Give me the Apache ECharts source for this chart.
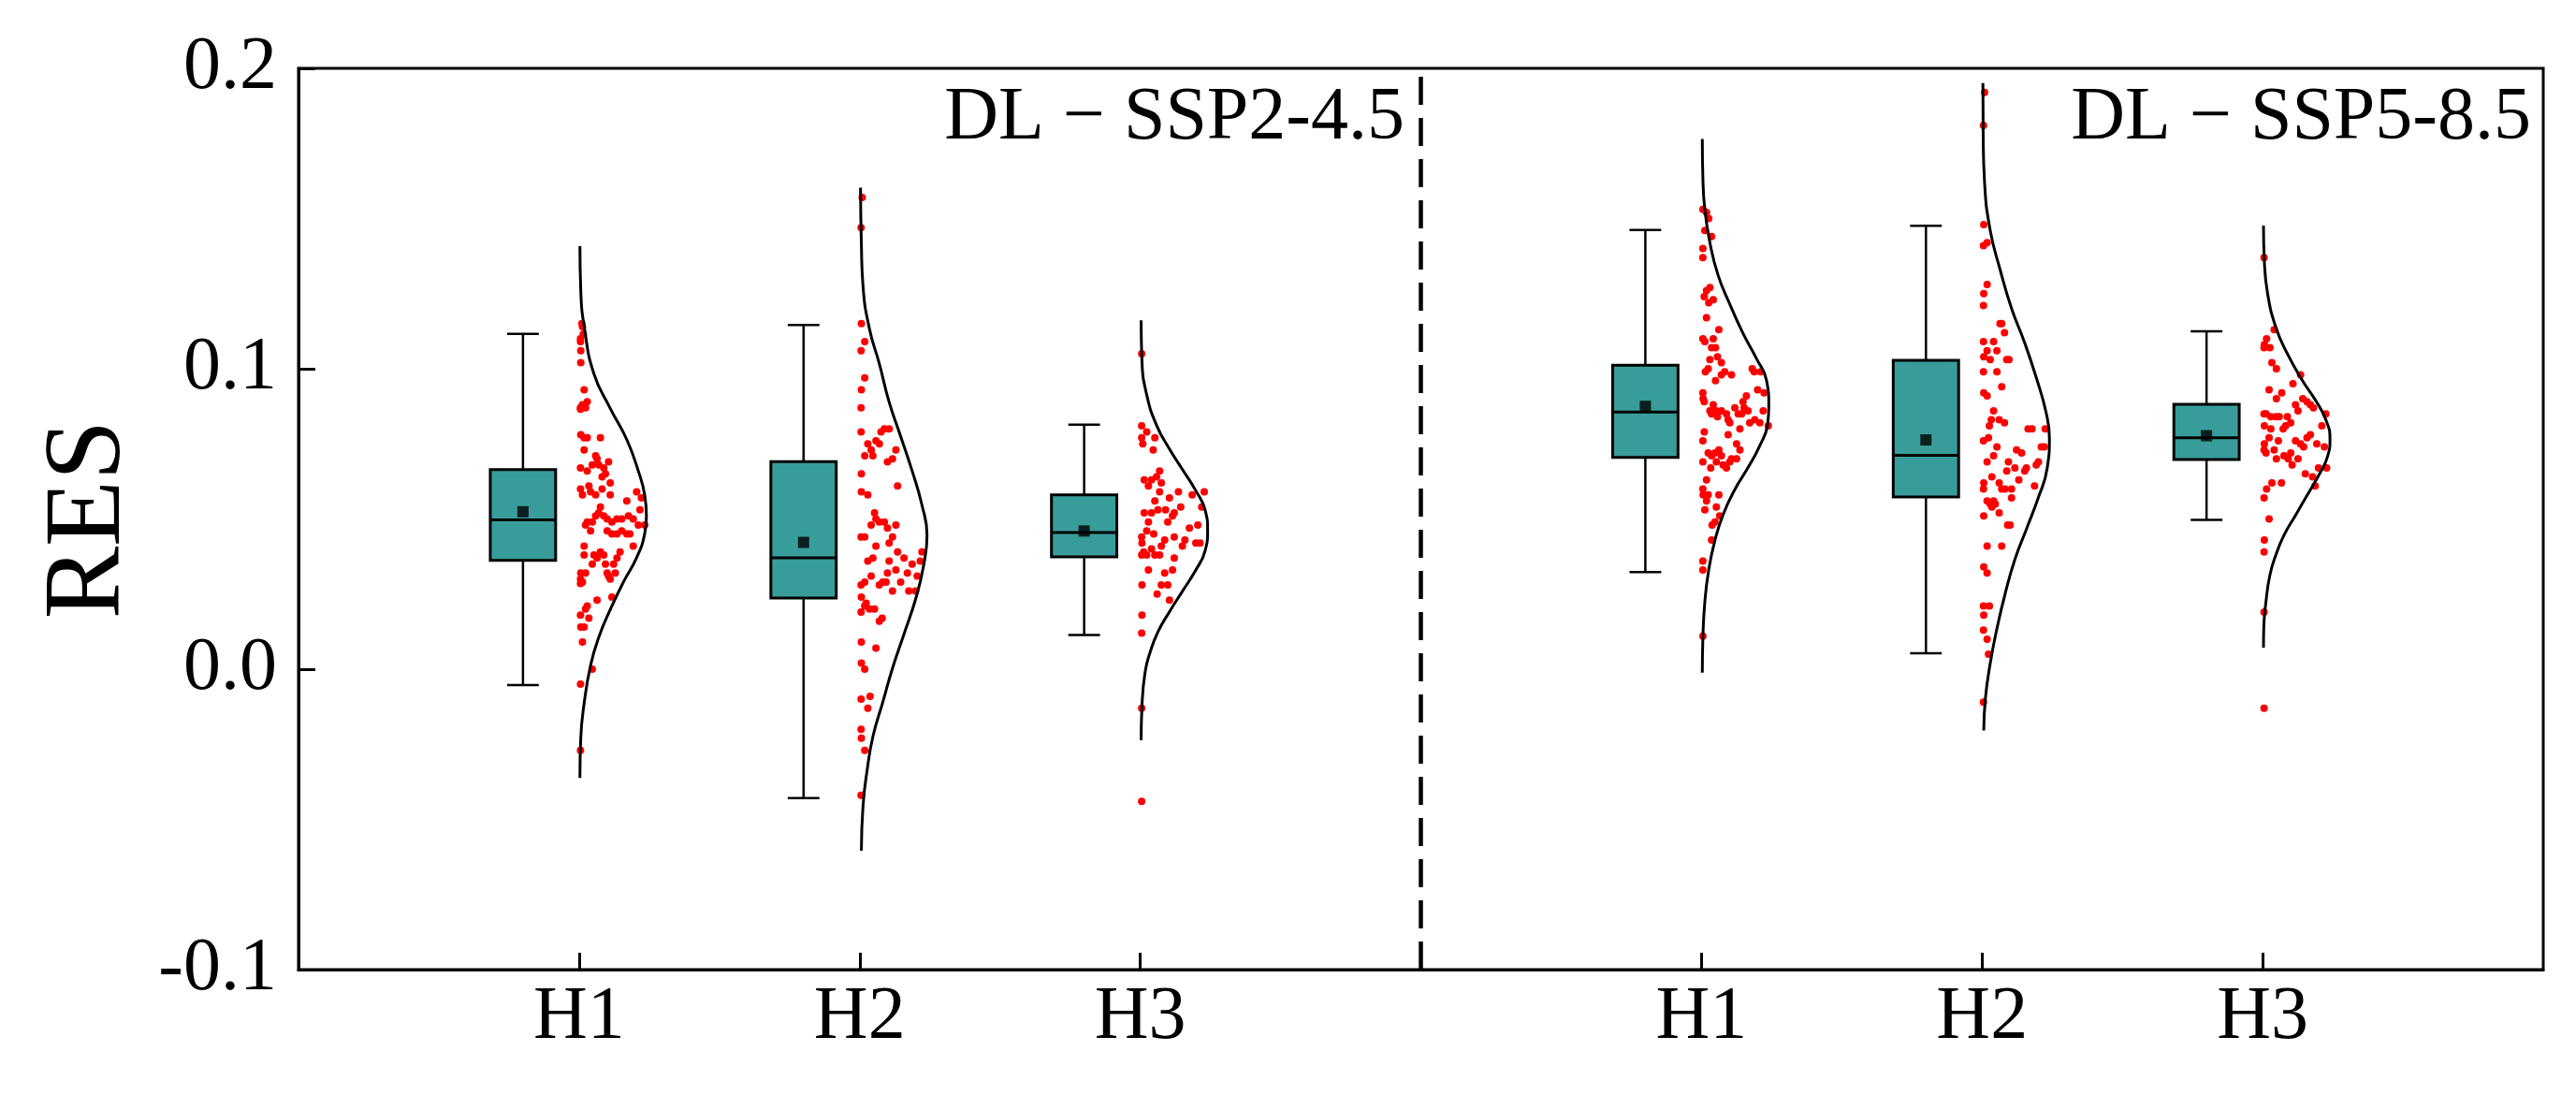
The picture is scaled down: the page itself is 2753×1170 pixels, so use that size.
<!DOCTYPE html>
<html lang="en">
<head>
    <meta charset="UTF-8">
    <title>RES raincloud</title>
    <style>
        body { margin: 0; background: #fff; }
        #chart { width: 2753px; height: 1170px; }
    </style>
    <script src="https://cdn.jsdelivr.net/npm/echarts@6.0.0/dist/echarts.min.js"></script>
</head>
<body>
<div id="chart"></div>
<script>
// x positions of the groups (left panel 1-3, right panel 5-7, divider at 4)
var xTickPos = [1, 2, 3, 5, 6, 7];
var xTickLabels = ['H1', 'H2', 'H3', 'H1', 'H2', 'H3'];
var yTicks = [-0.1, 0.0, 0.1, 0.2];
var panelTitles = ['DL \u2212 SSP2-4.5', 'DL \u2212 SSP5-8.5'];

// box statistics, one entry per group
var boxMin  = [-0.0053, -0.0429, 0.0114, 0.0323, 0.0053, 0.0497];
var boxQ1   = [0.0362, 0.0237, 0.0374, 0.0705, 0.0573, 0.0698];
var boxMed  = [0.0497, 0.0371, 0.0455, 0.0856, 0.0712, 0.0770];
var boxQ3   = [0.0664, 0.0691, 0.0580, 0.1012, 0.1028, 0.0882];
var boxMax  = [0.1116, 0.1146, 0.0814, 0.1462, 0.1476, 0.1125];
var boxMean = [0.0524, 0.0422, 0.0460, 0.0875, 0.0763, 0.0777];

// raw points: [offset right of tick, RES]
var ptsL1 = [[0.010,0.115],[0.012,0.114],[0.005,0.110],[0.015,0.1115],[0.006,0.106],[0.005,0.109],[0.006,0.102],
    [0.018,0.093],[0.005,0.087],[0.012,0.088],[0.029,0.089],[0.023,0.087],[0.005,0.0865],[0.006,0.078],[0.018,0.077],
    [0.029,0.077],[0.076,0.077],[0.018,0.073],[0.059,0.071],[0.064,0.070],[0.047,0.068],[0.070,0.068],[0.105,0.069],
    [0.005,0.067],[0.029,0.066],[0.088,0.067],[0.094,0.065],[0.082,0.064],[0.111,0.062],[0.005,0.060],[0.012,0.058],
    [0.035,0.061],[0.041,0.059],[0.059,0.058],[0.082,0.060],[0.111,0.058],[0.205,0.059],[0.222,0.057],[0.170,0.056],
    [0.076,0.054],[0.070,0.052],[0.059,0.051],[0.217,0.053],[0.029,0.049],[0.023,0.048],[0.047,0.049],[0.088,0.051],
    [0.100,0.050],[0.117,0.049],[0.135,0.050],[0.152,0.050],[0.176,0.051],[0.193,0.050],[0.211,0.048],[0.234,0.048],
    [0.041,0.046],[0.100,0.046],[0.117,0.045],[0.135,0.045],[0.152,0.046],[0.170,0.045],[0.181,0.045],[0.193,0.041],
    [0.018,0.041],[0.018,0.038],[0.053,0.038],[0.076,0.039],[0.088,0.038],[0.064,0.037],[0.047,0.035],[0.146,0.039],
    [0.135,0.037],[0.123,0.035],[0.094,0.035],[0.006,0.032],[0.023,0.032],[0.005,0.030],[0.012,0.029],[0.005,0.0285],
    [0.100,0.032],[0.105,0.031],[0.129,0.032],[0.111,0.030],[0.064,0.023],[0.117,0.024],[0.029,0.021],[0.023,0.020],
    [0.005,0.018],[0.035,0.017],[0.006,0.014],[0.018,0.014],[0.012,0.009],[0.047,0.000],[0.005,-0.005],[0.005,-0.027]];
var ptsL2 = [[0.009,0.157],[0.005,0.147],[0.006,0.115],[0.018,0.109],[0.005,0.106],[0.018,0.097],[0.006,0.093],
    [0.005,0.087],[0.005,0.079],[0.076,0.079],[0.088,0.080],[0.105,0.080],[0.029,0.075],[0.041,0.073],[0.058,0.076],
    [0.070,0.075],[0.129,0.073],[0.018,0.071],[0.047,0.071],[0.117,0.070],[0.099,0.069],[0.006,0.065],[0.135,0.061],
    [0.006,0.059],[0.029,0.058],[0.053,0.052],[0.058,0.050],[0.041,0.048],[0.070,0.049],[0.088,0.049],[0.099,0.047],
    [0.129,0.048],[0.005,0.044],[0.018,0.044],[0.058,0.041],[0.117,0.044],[0.105,0.042],[0.135,0.039],[0.158,0.037],
    [0.187,0.035],[0.222,0.039],[0.216,0.036],[0.029,0.036],[0.047,0.037],[0.105,0.036],[0.129,0.033],[0.099,0.032],
    [0.170,0.032],[0.205,0.031],[0.041,0.031],[0.018,0.029],[0.146,0.029],[0.082,0.029],[0.070,0.028],[0.005,0.028],
    [0.094,0.029],[0.175,0.026],[0.199,0.026],[0.117,0.026],[0.006,0.024],[0.023,0.022],[0.035,0.020],[0.053,0.020],
    [0.005,0.019],[0.018,0.021],[0.070,0.016],[0.080,0.017],[0.006,0.009],[0.058,0.007],[0.006,0.002],[0.018,0.000],
    [0.005,-0.010],[0.037,-0.009],[0.029,-0.013],[0.005,-0.020],[0.006,-0.023],[0.018,-0.027],[0.005,-0.042]];
var ptsL3 = [[0.005,0.105],[0.005,0.081],[0.023,0.079],[0.052,0.077],[0.005,0.077],[0.009,0.075],[0.046,0.073],
    [0.069,0.066],[0.014,0.063],[0.040,0.063],[0.058,0.064],[0.075,0.062],[0.029,0.061],[0.069,0.059],[0.136,0.059],
    [0.185,0.058],[0.228,0.059],[0.104,0.057],[0.052,0.056],[0.219,0.054],[0.144,0.054],[0.090,0.053],[0.063,0.053],
    [0.040,0.052],[0.014,0.052],[0.121,0.052],[0.115,0.051],[0.029,0.049],[0.098,0.049],[0.205,0.048],[0.175,0.047],
    [0.023,0.046],[0.048,0.045],[0.005,0.044],[0.006,0.042],[0.121,0.044],[0.159,0.043],[0.198,0.042],[0.213,0.042],
    [0.087,0.043],[0.075,0.041],[0.150,0.041],[0.005,0.038],[0.023,0.038],[0.040,0.040],[0.052,0.038],[0.069,0.038],
    [0.012,0.039],[0.121,0.037],[0.029,0.033],[0.087,0.032],[0.115,0.033],[0.006,0.028],[0.075,0.028],[0.098,0.028],
    [0.060,0.025],[0.104,0.023],[0.006,0.018],[0.005,0.012],[0.005,-0.013],[0.005,-0.044]];
var ptsR1 = [[0.005,0.153],[0.018,0.152],[0.026,0.150],[0.012,0.146],[0.036,0.144],[0.005,0.140],[0.005,0.137],
    [0.018,0.126],[0.030,0.127],[0.010,0.124],[0.042,0.123],[0.026,0.122],[0.018,0.117],[0.062,0.113],[0.005,0.110],
    [0.012,0.109],[0.042,0.110],[0.036,0.107],[0.050,0.107],[0.030,0.103],[0.057,0.104],[0.024,0.100],[0.071,0.102],
    [0.083,0.099],[0.014,0.099],[0.071,0.098],[0.050,0.096],[0.107,0.098],[0.181,0.100],[0.188,0.099],[0.211,0.099],
    [0.200,0.093],[0.223,0.092],[0.160,0.091],[0.148,0.089],[0.152,0.087],[0.005,0.092],[0.006,0.090],[0.010,0.089],
    [0.042,0.088],[0.053,0.086],[0.071,0.086],[0.036,0.085],[0.030,0.086],[0.057,0.084],[0.089,0.085],[0.095,0.083],
    [0.101,0.082],[0.119,0.087],[0.131,0.085],[0.143,0.085],[0.137,0.080],[0.095,0.078],[0.166,0.086],[0.172,0.082],
    [0.190,0.083],[0.208,0.082],[0.220,0.086],[0.238,0.081],[0.010,0.079],[0.005,0.076],[0.125,0.075],[0.137,0.073],
    [0.062,0.073],[0.048,0.072],[0.024,0.072],[0.036,0.071],[0.071,0.071],[0.053,0.069],[0.077,0.068],[0.089,0.067],
    [0.101,0.069],[0.107,0.070],[0.125,0.070],[0.005,0.069],[0.033,0.067],[0.018,0.063],[0.005,0.060],[0.006,0.058],
    [0.024,0.058],[0.062,0.058],[0.018,0.056],[0.053,0.054],[0.012,0.053],[0.065,0.051],[0.038,0.048],[0.048,0.049],
    [0.036,0.043],[0.005,0.036],[0.005,0.033],[0.005,0.011]];
var ptsR2 = [[0.009,0.192],[0.005,0.181],[0.006,0.148],[0.018,0.142],[0.005,0.141],[0.018,0.128],[0.006,0.125],
    [0.005,0.121],[0.070,0.115],[0.080,0.112],[0.064,0.115],[0.005,0.109],[0.041,0.109],[0.018,0.106],[0.053,0.106],
    [0.029,0.103],[0.006,0.104],[0.088,0.103],[0.096,0.103],[0.005,0.099],[0.053,0.099],[0.070,0.094],[0.006,0.092],
    [0.018,0.091],[0.041,0.086],[0.033,0.083],[0.061,0.083],[0.080,0.082],[0.026,0.081],[0.005,0.076],[0.023,0.077],
    [0.164,0.080],[0.178,0.080],[0.225,0.080],[0.053,0.074],[0.041,0.071],[0.018,0.069],[0.123,0.073],[0.141,0.072],
    [0.211,0.074],[0.222,0.074],[0.201,0.069],[0.193,0.068],[0.094,0.069],[0.088,0.066],[0.117,0.067],[0.158,0.067],
    [0.152,0.066],[0.131,0.063],[0.035,0.064],[0.006,0.062],[0.005,0.060],[0.061,0.062],[0.070,0.060],[0.082,0.060],
    [0.105,0.060],[0.187,0.061],[0.105,0.057],[0.018,0.056],[0.029,0.055],[0.041,0.056],[0.047,0.055],[0.035,0.054],
    [0.061,0.052],[0.006,0.051],[0.091,0.048],[0.100,0.048],[0.018,0.041],[0.070,0.041],[0.006,0.034],[0.018,0.032],
    [0.005,0.021],[0.026,0.021],[0.006,0.018],[0.005,0.013],[0.018,0.010],[0.023,0.005],[0.005,-0.011]];
var ptsR3 = [[0.005,0.137],[0.041,0.113],[0.014,0.110],[0.005,0.107],[0.006,0.108],[0.026,0.107],[0.033,0.102],
    [0.049,0.100],[0.135,0.098],[0.108,0.095],[0.023,0.093],[0.068,0.092],[0.049,0.090],[0.117,0.088],[0.143,0.090],
    [0.158,0.089],[0.170,0.088],[0.181,0.087],[0.126,0.086],[0.005,0.085],[0.012,0.085],[0.029,0.084],[0.047,0.084],
    [0.059,0.084],[0.006,0.081],[0.088,0.084],[0.100,0.082],[0.082,0.081],[0.073,0.080],[0.211,0.081],[0.225,0.085],
    [0.170,0.078],[0.029,0.080],[0.158,0.077],[0.117,0.076],[0.056,0.076],[0.023,0.077],[0.006,0.075],[0.005,0.073],
    [0.135,0.075],[0.146,0.074],[0.193,0.075],[0.220,0.074],[0.041,0.073],[0.012,0.072],[0.076,0.071],[0.100,0.072],
    [0.091,0.070],[0.049,0.070],[0.105,0.068],[0.126,0.070],[0.199,0.067],[0.228,0.067],[0.152,0.065],[0.178,0.064],
    [0.187,0.061],[0.033,0.062],[0.014,0.060],[0.067,0.062],[0.005,0.057],[0.023,0.050],[0.006,0.043],[0.005,0.039],
    [0.005,0.019],[0.005,-0.013]];

// density outlines: [width right of tick, RES]
var curveL1 = [[0.003,0.1408],[0.006,0.126],[0.020,0.113],[0.053,0.0983],[0.111,0.0868],[0.170,0.0764],[0.211,0.066],
    [0.234,0.0579],[0.240,0.051],[0.234,0.0452],[0.205,0.0371],[0.158,0.029],[0.111,0.0198],[0.070,0.0106],
    [0.041,0.0013],[0.018,-0.0114],[0.006,-0.0229],[0.003,-0.0362]];
var curveL2 = [[0.003,0.1603],[0.006,0.1417],[0.012,0.1274],[0.035,0.1132],[0.070,0.1017],[0.105,0.0889],[0.146,0.0775],
    [0.187,0.0660],[0.222,0.0546],[0.240,0.0446],[0.228,0.0346],[0.199,0.0232],[0.158,0.0117],[0.117,0.0003],
    [0.082,-0.0111],[0.047,-0.0225],[0.026,-0.0340],[0.012,-0.0454],[0.006,-0.0604]];
var curveL3 = [[0.003,0.1161],[0.006,0.1026],[0.023,0.0913],[0.058,0.0812],[0.104,0.0733],[0.150,0.0665],[0.196,0.0597],
    [0.231,0.0530],[0.240,0.0462],[0.231,0.0394],[0.196,0.0327],[0.150,0.0259],[0.104,0.0191],[0.063,0.0124],
    [0.035,0.0056],[0.017,-0.0011],[0.006,-0.0124],[0.003,-0.0237]];
var curveR1 = [[0.003,0.1765],[0.005,0.1638],[0.012,0.1529],[0.030,0.1420],[0.059,0.1312],[0.101,0.1215],[0.148,0.1118],
    [0.196,0.1034],[0.232,0.0961],[0.240,0.0876],[0.236,0.0816],[0.208,0.0744],[0.166,0.0671],[0.119,0.0598],
    [0.077,0.0514],[0.048,0.0429],[0.026,0.0332],[0.012,0.0224],[0.005,0.0103],[0.003,-0.0012]];
var curveR2 = [[0.003,0.1951],[0.004,0.1778],[0.009,0.1619],[0.029,0.1461],[0.064,0.1331],[0.105,0.1201],[0.152,0.1086],
    [0.193,0.0971],[0.228,0.0855],[0.240,0.0769],[0.232,0.0668],[0.199,0.0567],[0.158,0.0466],[0.117,0.0365],
    [0.082,0.0250],[0.053,0.0135],[0.029,0.0019],[0.012,-0.0096],[0.006,-0.0204]];
var curveR3 = [[0.003,0.1477],[0.006,0.1358],[0.018,0.1248],[0.047,0.1138],[0.088,0.1050],[0.141,0.0962],[0.187,0.0897],
    [0.225,0.0831],[0.240,0.0765],[0.232,0.0710],[0.199,0.0644],[0.158,0.0578],[0.117,0.0512],[0.076,0.0446],
    [0.047,0.0380],[0.026,0.0314],[0.012,0.0226],[0.004,0.0138],[0.003,0.0072]];

var groupPts = [ptsL1, ptsL2, ptsL3, ptsR1, ptsR2, ptsR3];
var groupCurves = [curveL1, curveL2, curveL3, curveR1, curveR2, curveR3];

var boxOffset = -0.2;   // boxes sit left of the tick
var boxWidth = 0.233;
var capWidth = 0.113;
var boxColor = '#389d9a';
var serif = "'Liberation Serif', 'Times New Roman', serif";

var chart = echarts.init(document.getElementById('chart'));

function renderBox(params, api) {
    var x = api.value(0);
    var lo = api.coord([x, api.value(1)]);
    var q1 = api.coord([x, api.value(2)]);
    var med = api.coord([x, api.value(3)]);
    var q3 = api.coord([x, api.value(4)]);
    var hi = api.coord([x, api.value(5)]);
    var hb = api.size([boxWidth, 0])[0] / 2;
    var hc = api.size([capWidth, 0])[0] / 2;
    var ls = { stroke: '#000', lineWidth: 2.5 };
    return {
        type: 'group',
        children: [
            { type: 'line', shape: { x1: lo[0], y1: lo[1], x2: q1[0], y2: q1[1] }, style: ls },
            { type: 'line', shape: { x1: q3[0], y1: q3[1], x2: hi[0], y2: hi[1] }, style: ls },
            { type: 'line', shape: { x1: lo[0] - hc, y1: lo[1], x2: lo[0] + hc, y2: lo[1] }, style: ls },
            { type: 'line', shape: { x1: hi[0] - hc, y1: hi[1], x2: hi[0] + hc, y2: hi[1] }, style: ls },
            { type: 'rect', shape: { x: q3[0] - hb, y: q3[1], width: hb * 2, height: q1[1] - q3[1] },
              style: { fill: boxColor, stroke: '#000', lineWidth: 3 } },
            { type: 'line', shape: { x1: med[0] - hb, y1: med[1], x2: med[0] + hb, y2: med[1] },
              style: { stroke: '#000', lineWidth: 3 } }
        ]
    };
}

var boxData = xTickPos.map(function (p, i) {
    return [p + boxOffset, boxMin[i], boxQ1[i], boxMed[i], boxQ3[i], boxMax[i]];
});
var meanData = xTickPos.map(function (p, i) { return [p + boxOffset, boxMean[i]]; });

var series = [{
    type: 'custom',
    renderItem: renderBox,
    data: boxData,
    encode: { x: 0, y: [1, 2, 3, 4, 5] },
    z: 3
}, {
    type: 'scatter',
    data: meanData,
    symbol: 'rect',
    symbolSize: 12,
    itemStyle: { color: '#000' },
    z: 4
}, {
    // panel divider
    type: 'line',
    data: [[4, -0.1], [4, 0.2]],
    showSymbol: false,
    lineStyle: { color: '#000', width: 4.5, type: [30, 14] },
    z: 2
}];

groupPts.forEach(function (pts, i) {
    series.push({
        type: 'scatter',
        data: pts.map(function (d) { return [xTickPos[i] + d[0], d[1]]; }),
        symbolSize: 8,
        itemStyle: { color: '#ff0000', opacity: 1 },
        z: 3
    });
});

groupCurves.forEach(function (c, i) {
    series.push({
        type: 'line',
        data: c.map(function (d) { return [xTickPos[i] + d[0], d[1]]; }),
        smooth: 0.5,
        showSymbol: false,
        lineStyle: { color: '#000', width: 3 },
        z: 5
    });
});

var option = {
    animation: false,
    backgroundColor: '#fff',
    grid: {
        left: 319, right: 35, top: 73, bottom: 134,
        show: true, borderColor: '#000', borderWidth: 3
    },
    xAxis: {
        type: 'value',
        min: 0, max: 8,
        splitLine: { show: false },
        axisLine: { onZero: false, lineStyle: { color: '#000', width: 3 } },
        axisTick: { inside: true, length: 18, customValues: xTickPos, lineStyle: { color: '#000', width: 3 } },
        axisLabel: {
            customValues: xTickPos,
            formatter: function (v) { return xTickLabels[xTickPos.indexOf(v)]; },
            fontSize: 80, fontFamily: serif, color: '#000', margin: 12
        }
    },
    yAxis: {
        type: 'value',
        min: yTicks[0], max: yTicks[yTicks.length - 1], interval: 0.1,
        splitLine: { show: false },
        axisLine: { onZero: false, lineStyle: { color: '#000', width: 3 } },
        axisTick: { inside: true, length: 18, lineStyle: { color: '#000', width: 3 } },
        axisLabel: {
            formatter: function (v) { return v.toFixed(1); },
            fontSize: 80, fontFamily: serif, color: '#000', margin: 23
        }
    },
    graphic: [
        { type: 'text', x: 1501, y: 127,
          style: { text: panelTitles[0], font: '80px ' + serif, fill: '#000', textAlign: 'right', textVerticalAlign: 'middle' } },
        { type: 'text', x: 2705, y: 127,
          style: { text: panelTitles[1], font: '80px ' + serif, fill: '#000', textAlign: 'right', textVerticalAlign: 'middle' } },
        { type: 'text', x: 97, y: 555, rotation: Math.PI / 2,
          style: { text: 'RES', font: '116px ' + serif, fill: '#000', textAlign: 'center', textVerticalAlign: 'middle' } }
    ],
    series: series
};
chart.setOption(option);
</script>
</body>
</html>
